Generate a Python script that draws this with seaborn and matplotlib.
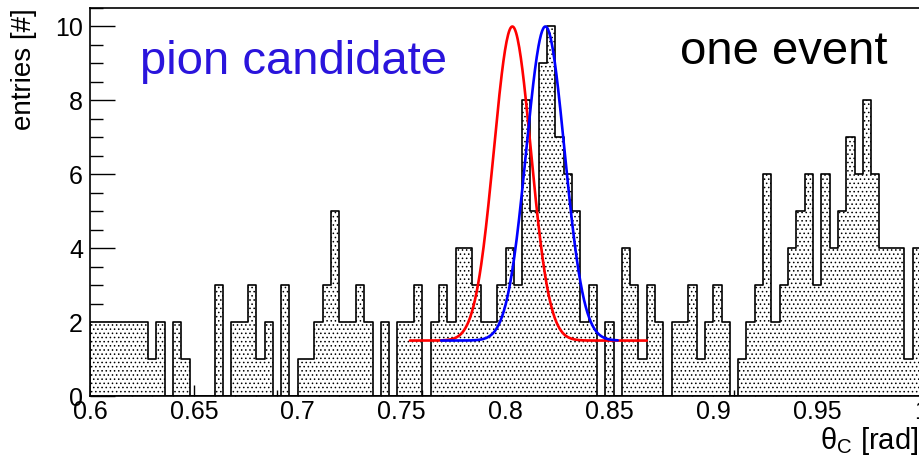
import matplotlib
matplotlib.use("Agg")
import matplotlib.pyplot as plt
import numpy as np
import pandas as pd
import seaborn as sns
from matplotlib.ticker import MultipleLocator

# histogram: 100 bins between 0.6 and 1.0 rad
x_min, x_max, n_bins = 0.6, 1.0, 100
counts = [
    2, 2, 2, 2, 2, 2, 2, 1, 2, 0,
    2, 1, 0, 0, 0, 3, 0, 2, 2, 3,
    1, 2, 0, 3, 0, 1, 1, 2, 3, 5,
    2, 2, 3, 2, 0, 2, 0, 2, 2, 3,
    0, 2, 3, 2, 4, 4, 3, 2, 2, 3,
    4, 3, 8, 5, 9, 10, 7, 6, 5, 2,
    3, 0, 2, 0, 4, 3, 1, 3, 2, 0,
    2, 2, 3, 1, 2, 3, 2, 0, 1, 2,
    3, 6, 2, 3, 4, 5, 6, 3, 6, 4,
    5, 7, 6, 8, 6, 4, 4, 4, 1, 4,
]
x_ticks = [0.6, 0.65, 0.7, 0.75, 0.8, 0.85, 0.9, 0.95, 1.0]
x_tick_labels = ["0.6", "0.65", "0.7", "0.75", "0.8", "0.85", "0.9", "0.95", "1"]

# gaussian + constant fit curves: (mean, sigma, amplitude, baseline, x from, x to)
red_fit = (0.8033, 0.0089, 8.5, 1.5, 0.754, 0.868)
blue_fit = (0.8192, 0.0092, 8.5, 1.5, 0.769, 0.854)

sns.set_theme(style="white")
plt.rcParams["font.family"] = ["Liberation Sans", "DejaVu Sans"]
plt.rcParams["mathtext.fontset"] = "custom"
plt.rcParams["mathtext.rm"] = "Liberation Sans"
plt.rcParams["hatch.linewidth"] = 0.6
plt.rcParams["text.color"] = "black"
plt.rcParams["xtick.color"] = "black"
plt.rcParams["ytick.color"] = "black"
plt.rcParams["xtick.labelcolor"] = "black"
plt.rcParams["ytick.labelcolor"] = "black"

fig = plt.figure(figsize=(9.2, 4.62), dpi=100)
ax = fig.add_axes([90 / 920, 66 / 462, 831 / 920, 388 / 462])

width = (x_max - x_min) / n_bins
hist_df = pd.DataFrame({
    "theta": x_min + width * (np.arange(n_bins) + 0.5),
    "entries": counts,
})
sns.histplot(
    data=hist_df, x="theta", weights="entries", bins=n_bins,
    binrange=(x_min, x_max), element="step", fill=True,
    color="white", edgecolor="black", linewidth=1.2, hatch="....",
    alpha=1, ax=ax,
)


def fit_curve(params):
    mu, sig, amp, base, lo, hi = params
    xs = np.linspace(lo, hi, 300)
    return xs, base + amp * np.exp(-0.5 * ((xs - mu) / sig) ** 2)


for params, col in [(red_fit, "#ff0000"), (blue_fit, "#0000ff")]:
    xs, ys = fit_curve(params)
    sns.lineplot(x=xs, y=ys, color=col, linewidth=1.9, ax=ax)

ax.set_xlim(x_min, x_max)
ax.set_ylim(0, 10.5)
ax.xaxis.set_minor_locator(MultipleLocator(0.01))
ax.yaxis.set_major_locator(MultipleLocator(2))
ax.yaxis.set_minor_locator(MultipleLocator(0.5))
ax.set_xticks(x_ticks)
ax.set_xticklabels(x_tick_labels)
ax.tick_params(axis="x", which="major", direction="in", length=8, width=1,
               labelsize=18, pad=3, bottom=True, colors="black")
ax.tick_params(axis="x", which="minor", direction="in", length=4, width=1,
               bottom=True, colors="black")
ax.tick_params(axis="y", which="major", direction="in", length=18, width=1,
               labelsize=18, pad=5, left=True, colors="black")
ax.tick_params(axis="y", which="minor", direction="in", length=9, width=1,
               left=True, colors="black")
for s in ax.spines.values():
    s.set_color("black")
    s.set_linewidth(1.2)
ax.set_xlabel("")
ax.set_ylabel("")

fig.text(24 / 920, 1 - 8 / 462, "entries [#]", rotation=90, ha="center", va="top",
         fontsize=20, color="black")
fig.text(918 / 920, 1 - 449 / 462, r"$\mathrm{\theta_{C}}$ [rad]", ha="right",
         va="baseline", fontsize=21, color="black")
fig.text(140 / 920, 1 - 74 / 462, "pion candidate", color="#2a14dc", fontsize=34,
         ha="left", va="baseline")
fig.text(680 / 920, 1 - 64 / 462, "one event", color="black", fontsize=34,
         ha="left", va="baseline")

fig.savefig("out.png", dpi=100)
